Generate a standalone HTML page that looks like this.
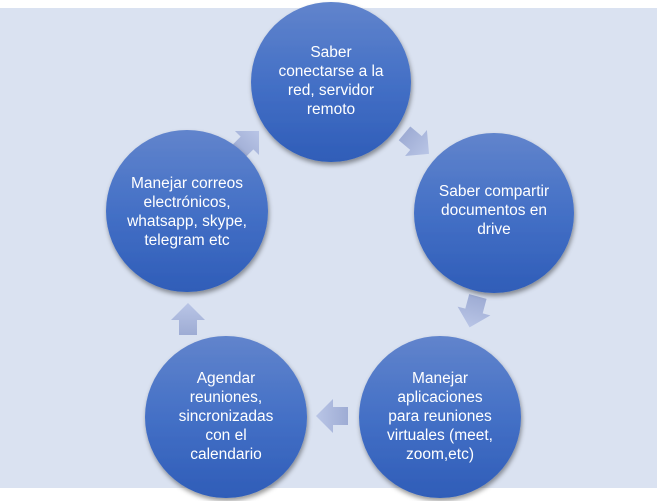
<!DOCTYPE html>
<html><head><meta charset="utf-8"><style>
html,body{margin:0;padding:0;background:#fff;}
svg{display:block;}
text{font-family:"Liberation Sans",sans-serif;font-size:15.5px;fill:#fff;text-anchor:middle;}
</style></head><body>
<svg width="657" height="501" viewBox="0 0 657 501" xmlns="http://www.w3.org/2000/svg">
<defs>
<linearGradient id="g" x1="0" y1="0" x2="0" y2="1">
<stop offset="0" stop-color="#6184cc"/><stop offset="0.5" stop-color="#4470c6"/><stop offset="1" stop-color="#2f5db8"/>
</linearGradient>
<linearGradient id="a" x1="0" y1="0" x2="1" y2="0">
<stop offset="0" stop-color="#9eacd4"/><stop offset="1" stop-color="#b9c5e6"/>
</linearGradient>
<filter id="s" x="-20%" y="-20%" width="140%" height="140%"><feDropShadow dx="1" dy="3" stdDeviation="2.5" flood-color="#000" flood-opacity="0.4"/></filter>
<polygon id="ar" points="-15,-9 0,-9 0,-17 17,0 0,17 0,9 -15,9"/>
</defs>
<rect x="0" y="8" width="657" height="480" fill="#dae2f1"/>
<g fill="url(#a)">
<use href="#ar" transform="translate(247,143) rotate(-45)"/>
<use href="#ar" transform="translate(416,143) rotate(40)"/>
<use href="#ar" transform="translate(474,311) rotate(105)"/>
<use href="#ar" transform="translate(333,416) rotate(180)"/>
<use href="#ar" transform="translate(188,320) rotate(-90)"/>
</g>
<g fill="url(#g)" filter="url(#s)">
<circle cx="331" cy="82" r="80"/>
<circle cx="494" cy="213" r="80"/>
<circle cx="440" cy="417" r="81"/>
<circle cx="226" cy="417" r="81"/>
<circle cx="187" cy="211" r="81"/>
</g>
<text x="331" y="57">Saber</text>
<text x="331" y="76">conectarse a la</text>
<text x="331" y="95">red, servidor</text>
<text x="331" y="114">remoto</text>
<text x="494" y="196">Saber compartir</text>
<text x="494" y="215">documentos en</text>
<text x="494" y="234">drive</text>
<text x="187" y="188">Manejar correos</text>
<text x="187" y="207">electrónicos,</text>
<text x="187" y="226">whatsapp, skype,</text>
<text x="187" y="245">telegram etc</text>
<text x="440" y="383">Manejar</text>
<text x="440" y="402">aplicaciones</text>
<text x="440" y="421">para reuniones</text>
<text x="440" y="440">virtuales (meet,</text>
<text x="440" y="459">zoom,etc)</text>
<text x="226" y="383">Agendar</text>
<text x="226" y="402">reuniones,</text>
<text x="226" y="421">sincronizadas</text>
<text x="226" y="440">con el</text>
<text x="226" y="459">calendario</text>
</svg>
</body></html>
